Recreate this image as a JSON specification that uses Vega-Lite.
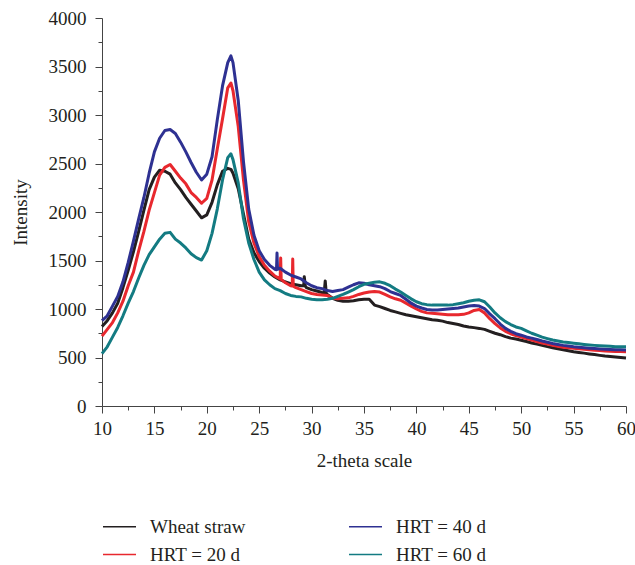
{
  "$schema": "https://vega.github.io/schema/vega-lite/v6.json",
  "width": 524,
  "height": 388,
  "autosize": "none",
  "padding": {"left": 102, "top": 18, "right": 9, "bottom": 159},
  "background": "white",
  "config": {
    "view": {"stroke": null},
    "font": "Liberation Serif",
    "axis": {"labelFont": "Liberation Serif", "titleFont": "Liberation Serif", "labelFontSize": 19, "titleFontSize": 19, "titleFontWeight": "normal", "labelColor": "#231f20", "titleColor": "#231f20", "domainColor": "#444444", "tickColor": "#444444", "grid": false},
    "legend": {"labelFont": "Liberation Serif", "labelFontSize": 19, "labelColor": "#231f20"}
  },
  "data": {"values": [
    {"x":10,"Wheat straw":820,"HRT = 20 d":720,"HRT = 40 d":880,"HRT = 60 d":540},
    {"x":10.5,"Wheat straw":880,"HRT = 20 d":790,"HRT = 40 d":930,"HRT = 60 d":610},
    {"x":11,"Wheat straw":960,"HRT = 20 d":860,"HRT = 40 d":1030,"HRT = 60 d":710},
    {"x":11.5,"Wheat straw":1060,"HRT = 20 d":960,"HRT = 40 d":1130,"HRT = 60 d":810},
    {"x":12,"Wheat straw":1220,"HRT = 20 d":1080,"HRT = 40 d":1280,"HRT = 60 d":930},
    {"x":12.5,"Wheat straw":1400,"HRT = 20 d":1240,"HRT = 40 d":1480,"HRT = 60 d":1060},
    {"x":13,"Wheat straw":1590,"HRT = 20 d":1380,"HRT = 40 d":1700,"HRT = 60 d":1180},
    {"x":13.5,"Wheat straw":1800,"HRT = 20 d":1600,"HRT = 40 d":1930,"HRT = 60 d":1320},
    {"x":14,"Wheat straw":2020,"HRT = 20 d":1800,"HRT = 40 d":2150,"HRT = 60 d":1450},
    {"x":14.5,"Wheat straw":2230,"HRT = 20 d":2020,"HRT = 40 d":2400,"HRT = 60 d":1560},
    {"x":15,"Wheat straw":2360,"HRT = 20 d":2200,"HRT = 40 d":2620,"HRT = 60 d":1640},
    {"x":15.5,"Wheat straw":2430,"HRT = 20 d":2380,"HRT = 40 d":2760,"HRT = 60 d":1720},
    {"x":16,"Wheat straw":2420,"HRT = 20 d":2460,"HRT = 40 d":2840,"HRT = 60 d":1780},
    {"x":16.5,"Wheat straw":2390,"HRT = 20 d":2490,"HRT = 40 d":2850,"HRT = 60 d":1790},
    {"x":17,"Wheat straw":2300,"HRT = 20 d":2420,"HRT = 40 d":2810,"HRT = 60 d":1720},
    {"x":17.5,"Wheat straw":2230,"HRT = 20 d":2350,"HRT = 40 d":2720,"HRT = 60 d":1680},
    {"x":18,"Wheat straw":2150,"HRT = 20 d":2290,"HRT = 40 d":2620,"HRT = 60 d":1630},
    {"x":18.5,"Wheat straw":2080,"HRT = 20 d":2200,"HRT = 40 d":2510,"HRT = 60 d":1570},
    {"x":19,"Wheat straw":2010,"HRT = 20 d":2150,"HRT = 40 d":2410,"HRT = 60 d":1530},
    {"x":19.5,"Wheat straw":1940,"HRT = 20 d":2090,"HRT = 40 d":2330,"HRT = 60 d":1505},
    {"x":20,"Wheat straw":1970,"HRT = 20 d":2140,"HRT = 40 d":2390,"HRT = 60 d":1600},
    {"x":20.5,"Wheat straw":2100,"HRT = 20 d":2330,"HRT = 40 d":2570,"HRT = 60 d":1780},
    {"x":21,"Wheat straw":2280,"HRT = 20 d":2650,"HRT = 40 d":2950,"HRT = 60 d":2030},
    {"x":21.5,"Wheat straw":2420,"HRT = 20 d":2960,"HRT = 40 d":3300,"HRT = 60 d":2330},
    {"x":22,"Wheat straw":2450,"HRT = 20 d":3280,"HRT = 40 d":3540,"HRT = 60 d":2560},
    {"x":22.3,"Wheat straw":2440,"HRT = 20 d":3330,"HRT = 40 d":3610,"HRT = 60 d":2600},
    {"x":22.5,"Wheat straw":2400,"HRT = 20 d":3250,"HRT = 40 d":3540,"HRT = 60 d":2540},
    {"x":23,"Wheat straw":2240,"HRT = 20 d":2880,"HRT = 40 d":3150,"HRT = 60 d":2300},
    {"x":23.5,"Wheat straw":1980,"HRT = 20 d":2330,"HRT = 40 d":2520,"HRT = 60 d":1930},
    {"x":24,"Wheat straw":1720,"HRT = 20 d":1900,"HRT = 40 d":2030,"HRT = 60 d":1680},
    {"x":24.5,"Wheat straw":1580,"HRT = 20 d":1680,"HRT = 40 d":1760,"HRT = 60 d":1510},
    {"x":25,"Wheat straw":1490,"HRT = 20 d":1540,"HRT = 40 d":1600,"HRT = 60 d":1380},
    {"x":25.5,"Wheat straw":1420,"HRT = 20 d":1450,"HRT = 40 d":1510,"HRT = 60 d":1300},
    {"x":26,"Wheat straw":1370,"HRT = 20 d":1390,"HRT = 40 d":1450,"HRT = 60 d":1250},
    {"x":26.5,"Wheat straw":1330,"HRT = 20 d":1340,"HRT = 40 d":1410,"HRT = 60 d":1210},
    {"x":26.65,"HRT = 40 d":1405},
    {"x":26.7,"HRT = 40 d":1577},
    {"x":26.75,"HRT = 40 d":1410},
    {"x":27,"Wheat straw":1300,"HRT = 20 d":1310,"HRT = 40 d":1420,"HRT = 60 d":1190},
    {"x":27.05,"HRT = 20 d":1525},
    {"x":27.1,"HRT = 20 d":1305},
    {"x":27.5,"Wheat straw":1280,"HRT = 20 d":1270,"HRT = 40 d":1380,"HRT = 60 d":1160},
    {"x":28,"Wheat straw":1260,"HRT = 20 d":1240,"HRT = 40 d":1350,"HRT = 60 d":1140},
    {"x":28.15,"HRT = 20 d":1238},
    {"x":28.2,"HRT = 20 d":1515},
    {"x":28.25,"HRT = 20 d":1235},
    {"x":28.5,"Wheat straw":1250,"HRT = 20 d":1220,"HRT = 40 d":1330,"HRT = 60 d":1130},
    {"x":29,"Wheat straw":1240,"HRT = 20 d":1200,"HRT = 40 d":1310,"HRT = 60 d":1125},
    {"x":29.25,"Wheat straw":1240},
    {"x":29.3,"Wheat straw":1333},
    {"x":29.4,"Wheat straw":1235},
    {"x":29.5,"Wheat straw":1220,"HRT = 20 d":1180,"HRT = 40 d":1270,"HRT = 60 d":1110},
    {"x":30,"Wheat straw":1200,"HRT = 20 d":1160,"HRT = 40 d":1240,"HRT = 60 d":1100},
    {"x":30.5,"Wheat straw":1185,"HRT = 20 d":1150,"HRT = 40 d":1220,"HRT = 60 d":1095},
    {"x":31,"Wheat straw":1170,"HRT = 20 d":1145,"HRT = 40 d":1210,"HRT = 60 d":1095},
    {"x":31.2,"Wheat straw":1165},
    {"x":31.3,"Wheat straw":1289},
    {"x":31.4,"Wheat straw":1160},
    {"x":31.5,"Wheat straw":1150,"HRT = 20 d":1140,"HRT = 40 d":1190,"HRT = 60 d":1100},
    {"x":32,"Wheat straw":1110,"HRT = 20 d":1110,"HRT = 40 d":1180,"HRT = 60 d":1110},
    {"x":32.5,"Wheat straw":1090,"HRT = 20 d":1105,"HRT = 40 d":1190,"HRT = 60 d":1130},
    {"x":33,"Wheat straw":1080,"HRT = 20 d":1110,"HRT = 40 d":1200,"HRT = 60 d":1150},
    {"x":33.5,"Wheat straw":1080,"HRT = 20 d":1115,"HRT = 40 d":1225,"HRT = 60 d":1175},
    {"x":34,"Wheat straw":1085,"HRT = 20 d":1130,"HRT = 40 d":1250,"HRT = 60 d":1200},
    {"x":34.5,"Wheat straw":1095,"HRT = 20 d":1150,"HRT = 40 d":1270,"HRT = 60 d":1230},
    {"x":35,"Wheat straw":1100,"HRT = 20 d":1165,"HRT = 40 d":1265,"HRT = 60 d":1255},
    {"x":35.5,"Wheat straw":1100,"HRT = 20 d":1175,"HRT = 40 d":1250,"HRT = 60 d":1265},
    {"x":36,"Wheat straw":1040,"HRT = 20 d":1180,"HRT = 40 d":1240,"HRT = 60 d":1275},
    {"x":36.5,"Wheat straw":1025,"HRT = 20 d":1175,"HRT = 40 d":1230,"HRT = 60 d":1280},
    {"x":37,"Wheat straw":1005,"HRT = 20 d":1150,"HRT = 40 d":1210,"HRT = 60 d":1265},
    {"x":37.5,"Wheat straw":985,"HRT = 20 d":1125,"HRT = 40 d":1180,"HRT = 60 d":1240},
    {"x":38,"Wheat straw":970,"HRT = 20 d":1105,"HRT = 40 d":1160,"HRT = 60 d":1205},
    {"x":38.5,"Wheat straw":955,"HRT = 20 d":1090,"HRT = 40 d":1140,"HRT = 60 d":1175},
    {"x":39,"Wheat straw":940,"HRT = 20 d":1060,"HRT = 40 d":1100,"HRT = 60 d":1140},
    {"x":39.5,"Wheat straw":930,"HRT = 20 d":1030,"HRT = 40 d":1060,"HRT = 60 d":1105},
    {"x":40,"Wheat straw":920,"HRT = 20 d":1000,"HRT = 40 d":1030,"HRT = 60 d":1075},
    {"x":40.5,"Wheat straw":910,"HRT = 20 d":975,"HRT = 40 d":1010,"HRT = 60 d":1055},
    {"x":41,"Wheat straw":900,"HRT = 20 d":960,"HRT = 40 d":995,"HRT = 60 d":1045},
    {"x":41.5,"Wheat straw":890,"HRT = 20 d":955,"HRT = 40 d":990,"HRT = 60 d":1040},
    {"x":42,"Wheat straw":885,"HRT = 20 d":950,"HRT = 40 d":990,"HRT = 60 d":1040},
    {"x":42.5,"Wheat straw":875,"HRT = 20 d":945,"HRT = 40 d":995,"HRT = 60 d":1040},
    {"x":43,"Wheat straw":860,"HRT = 20 d":940,"HRT = 40 d":1000,"HRT = 60 d":1040},
    {"x":43.5,"Wheat straw":850,"HRT = 20 d":940,"HRT = 40 d":1005,"HRT = 60 d":1045},
    {"x":44,"Wheat straw":840,"HRT = 20 d":940,"HRT = 40 d":1010,"HRT = 60 d":1055},
    {"x":44.5,"Wheat straw":825,"HRT = 20 d":945,"HRT = 40 d":1020,"HRT = 60 d":1065},
    {"x":45,"Wheat straw":815,"HRT = 20 d":960,"HRT = 40 d":1030,"HRT = 60 d":1080},
    {"x":45.5,"Wheat straw":808,"HRT = 20 d":985,"HRT = 40 d":1035,"HRT = 60 d":1090},
    {"x":46,"Wheat straw":800,"HRT = 20 d":995,"HRT = 40 d":1030,"HRT = 60 d":1095},
    {"x":46.5,"Wheat straw":790,"HRT = 20 d":960,"HRT = 40 d":1005,"HRT = 60 d":1075},
    {"x":47,"Wheat straw":770,"HRT = 20 d":900,"HRT = 40 d":950,"HRT = 60 d":1020},
    {"x":47.5,"Wheat straw":750,"HRT = 20 d":850,"HRT = 40 d":900,"HRT = 60 d":960},
    {"x":48,"Wheat straw":735,"HRT = 20 d":805,"HRT = 40 d":845,"HRT = 60 d":910},
    {"x":48.5,"Wheat straw":715,"HRT = 20 d":770,"HRT = 40 d":800,"HRT = 60 d":870},
    {"x":49,"Wheat straw":700,"HRT = 20 d":745,"HRT = 40 d":770,"HRT = 60 d":840},
    {"x":49.5,"Wheat straw":690,"HRT = 20 d":725,"HRT = 40 d":745,"HRT = 60 d":815},
    {"x":50,"Wheat straw":678,"HRT = 20 d":710,"HRT = 40 d":730,"HRT = 60 d":800},
    {"x":50.5,"Wheat straw":665,"HRT = 20 d":695,"HRT = 40 d":712,"HRT = 60 d":775},
    {"x":51,"Wheat straw":650,"HRT = 20 d":680,"HRT = 40 d":700,"HRT = 60 d":750},
    {"x":51.5,"Wheat straw":638,"HRT = 20 d":665,"HRT = 40 d":685,"HRT = 60 d":730},
    {"x":52,"Wheat straw":625,"HRT = 20 d":650,"HRT = 40 d":670,"HRT = 60 d":710},
    {"x":52.5,"Wheat straw":612,"HRT = 20 d":638,"HRT = 40 d":657,"HRT = 60 d":695},
    {"x":53,"Wheat straw":600,"HRT = 20 d":625,"HRT = 40 d":645,"HRT = 60 d":680},
    {"x":53.5,"Wheat straw":590,"HRT = 20 d":615,"HRT = 40 d":635,"HRT = 60 d":670},
    {"x":54,"Wheat straw":580,"HRT = 20 d":605,"HRT = 40 d":625,"HRT = 60 d":660},
    {"x":54.5,"Wheat straw":570,"HRT = 20 d":600,"HRT = 40 d":618,"HRT = 60 d":654},
    {"x":55,"Wheat straw":560,"HRT = 20 d":595,"HRT = 40 d":610,"HRT = 60 d":648},
    {"x":55.5,"Wheat straw":552,"HRT = 20 d":590,"HRT = 40 d":605,"HRT = 60 d":641},
    {"x":56,"Wheat straw":545,"HRT = 20 d":585,"HRT = 40 d":600,"HRT = 60 d":635},
    {"x":56.5,"Wheat straw":537,"HRT = 20 d":580,"HRT = 40 d":596,"HRT = 60 d":630},
    {"x":57,"Wheat straw":530,"HRT = 20 d":575,"HRT = 40 d":592,"HRT = 60 d":625},
    {"x":57.5,"Wheat straw":522,"HRT = 20 d":571,"HRT = 40 d":588,"HRT = 60 d":621},
    {"x":58,"Wheat straw":515,"HRT = 20 d":568,"HRT = 40 d":585,"HRT = 60 d":618},
    {"x":58.5,"Wheat straw":510,"HRT = 20 d":565,"HRT = 40 d":582,"HRT = 60 d":615},
    {"x":59,"Wheat straw":505,"HRT = 20 d":562,"HRT = 40 d":580,"HRT = 60 d":612},
    {"x":59.5,"Wheat straw":500,"HRT = 20 d":561,"HRT = 40 d":579,"HRT = 60 d":611},
    {"x":60,"Wheat straw":495,"HRT = 20 d":560,"HRT = 40 d":578,"HRT = 60 d":610}
  ]},
  "transform": [
    {"fold": ["Wheat straw", "HRT = 20 d", "HRT = 40 d", "HRT = 60 d"], "as": ["series", "intensity"]},
    {"filter": "isValid(datum.intensity)"}
  ],
  "mark": {"type": "line", "strokeWidth": 3, "strokeJoin": "round"},
  "encoding": {
    "x": {
      "field": "x", "type": "quantitative",
      "scale": {"domain": [10, 60], "nice": false, "zero": false},
      "axis": {
        "title": "2-theta scale",
        "values": [10,12.5,15,17.5,20,22.5,25,27.5,30,32.5,35,37.5,40,42.5,45,47.5,50,52.5,55,57.5,60],
        "labelExpr": "datum.value % 5 === 0 ? datum.label : ''",
        "tickSize": {"condition": {"test": "datum.value % 5 === 0", "value": 7}, "value": 4},
        "labelPadding": 6,
        "titlePadding": 13,
        "labelFlush": false,
        "labelOverlap": false
      }
    },
    "y": {
      "field": "intensity", "type": "quantitative",
      "scale": {"domain": [0, 4000], "nice": false},
      "axis": {
        "title": "Intensity",
        "values": [0,250,500,750,1000,1250,1500,1750,2000,2250,2500,2750,3000,3250,3500,3750,4000],
        "format": "d",
        "labelExpr": "datum.value % 500 === 0 ? datum.label : ''",
        "tickSize": {"condition": {"test": "datum.value % 500 === 0", "value": 7}, "value": 4},
        "labelPadding": 9,
        "titlePadding": 18,
        "labelOverlap": false
      }
    },
    "color": {
      "field": "series", "type": "nominal",
      "scale": {
        "domain": ["Wheat straw", "HRT = 40 d", "HRT = 20 d", "HRT = 60 d"],
        "range": ["#231f20", "#2e3192", "#e8282e", "#137b82"]
      },
      "legend": {
        "title": null,
        "orient": "none",
        "legendX": 0,
        "legendY": 491,
        "columns": 2,
        "direction": "horizontal",
        "symbolType": "stroke",
        "symbolSize": 1089,
        "symbolStrokeWidth": 1.5,
        "labelOffset": 13,
        "columnPadding": 100,
        "rowPadding": -6,
        "padding": 0
      }
    }
  }
}
